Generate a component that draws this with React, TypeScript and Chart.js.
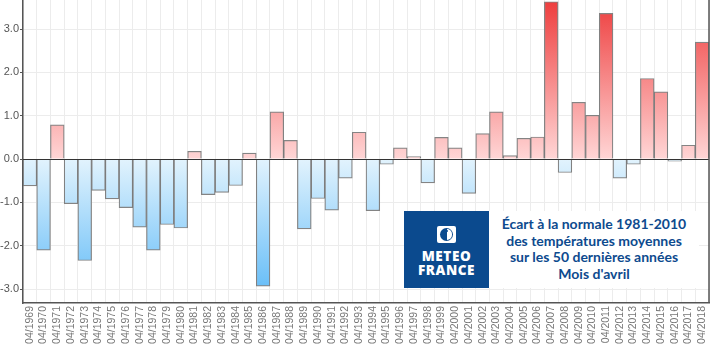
import React, { useEffect, useRef } from "react";
import { Chart, registerables } from "chart.js";

Chart.register(...registerables);

const years: string[] = [
  "1969","1970","1971","1972","1973","1974","1975","1976","1977","1978",
  "1979","1980","1981","1982","1983","1984","1985","1986","1987","1988",
  "1989","1990","1991","1992","1993","1994","1995","1996","1997","1998",
  "1999","2000","2001","2002","2003","2004","2005","2006","2007","2008",
  "2009","2010","2011","2012","2013","2014","2015","2016","2017","2018",
];
const labels: string[] = years.map((y) => "04/" + y);

const anomalies: number[] = [
  -0.62, -2.1, 0.79, -1.03, -2.34, -0.72, -0.92, -1.12, -1.57, -2.1,
  -1.51, -1.59, 0.18, -0.82, -0.77, -0.61, 0.14, -2.93, 1.09, 0.43,
  -1.61, -0.91, -1.18, -0.44, 0.62, -1.19, -0.12, 0.26, 0.06, -0.55,
  0.5, 0.26, -0.79, 0.59, 1.09, 0.08, 0.48, 0.51, 3.63, -0.31,
  1.31, 1.01, 3.36, -0.44, -0.12, 1.86, 1.55, -0.05, 0.32, 2.7,
];

const yTicks: number[] = [-3, -2, -1, 0, 1, 2, 3];
const yMin = -3.32;
const yMax = 3.67;

const titleLines: string[] = [
  "Écart à la normale 1981-2010",
  "des températures moyennes",
  "sur les 50 dernières années",
  "Mois d'avril",
];

export default function App() {
  const ref = useRef<HTMLCanvasElement | null>(null);

  useEffect(() => {
    const canvas = ref.current;
    if (!canvas) return;

    const fillFor = (ctx: any) => {
      const chart = ctx.chart;
      const area = chart.chartArea;
      const ys = chart.scales?.y;
      if (!area || !ys) return "#ccc";
      const v = ctx.raw as number;
      const c = chart.ctx as CanvasRenderingContext2D;
      const z = ys.getPixelForValue(0);
      if (v >= 0) {
        const g = c.createLinearGradient(0, z, 0, ys.getPixelForValue(3.65));
        g.addColorStop(0, "rgb(255,214,214)");
        g.addColorStop(1, "rgb(238,62,62)");
        return g;
      }
      const g = c.createLinearGradient(0, z, 0, ys.getPixelForValue(-3.0));
      g.addColorStop(0, "rgb(226,243,253)");
      g.addColorStop(1, "rgb(104,190,248)");
      return g;
    };

    const framePlugin = {
      id: "frame",
      afterDatasetsDraw(chart: any) {
        const { ctx, chartArea, scales } = chart;
        const z = Math.round(scales.y.getPixelForValue(0)) + 0.5;
        ctx.save();
        ctx.strokeStyle = "#333";
        ctx.lineWidth = 1;
        ctx.beginPath();
        ctx.moveTo(chartArea.left, z);
        ctx.lineTo(chartArea.right, z);
        ctx.stroke();
        ctx.strokeStyle = "#555";
        ctx.lineWidth = 1.5;
        ctx.beginPath();
        ctx.moveTo(chartArea.right, chartArea.top);
        ctx.lineTo(chartArea.right, chartArea.bottom);
        ctx.stroke();
        ctx.restore();
      },
    };

    const chart = new Chart(canvas, {
      type: "bar",
      data: {
        labels,
        datasets: [
          {
            data: anomalies,
            backgroundColor: fillFor,
            borderColor: "rgba(110,110,110,0.85)",
            borderWidth: 1.2,
            barPercentage: 1,
            categoryPercentage: 1,
          },
        ],
      },
      options: {
        animation: false,
        responsive: false,
        maintainAspectRatio: false,
        layout: { padding: { top: 0, right: 6, left: 0, bottom: 0 } },
        plugins: { legend: { display: false }, tooltip: { enabled: false } },
        scales: {
          x: {
            offset: true,
            grid: {
              offset: true,
              color: "#ececec",
              drawTicks: false,
            },
            border: { color: "#555", width: 1.5 },
            ticks: {
              autoSkip: false,
              maxRotation: 90,
              minRotation: 90,
              padding: 3,
              color: "#777",
              font: { family: "Liberation Sans", size: 10.5 },
            },
            afterFit: (s: any) => {
              s.height = 49;
              s.paddingLeft = 0;
              s.paddingRight = 0;
            },
          },
          y: {
            min: yMin,
            max: yMax,
            afterBuildTicks: (s: any) => {
              s.ticks = yTicks.map((v) => ({ value: v }));
            },
            grid: {
              color: "#ececec",
              tickColor: "#555",
              tickLength: 3,
            },
            border: { color: "#555", width: 1.5 },
            ticks: {
              padding: 1,
              color: "#555",
              font: { family: "Liberation Sans", size: 11 },
              callback: (v: any) => Number(v).toFixed(1),
            },
            afterFit: (s: any) => {
              s.width = 23;
              s.paddingTop = 0;
              s.paddingBottom = 0;
            },
          },
        },
      },
      plugins: [framePlugin],
    });
    return () => chart.destroy();
  }, []);

  return (
    <div
      style={{
        position: "fixed",
        left: 0,
        top: 0,
        width: 715,
        height: 352,
        background: "#fff",
        overflow: "hidden",
      }}
    >
      <canvas ref={ref} width={715} height={352} style={{ display: "block" }} />
      <div
        style={{
          position: "absolute",
          left: 404,
          top: 211,
          width: 85,
          height: 77,
          background: "#0b4a8e",
        }}
      >
        <div
          style={{
            position: "absolute",
            left: 33,
            top: 15,
            width: 19,
            height: 17,
            background: "#fff",
            borderRadius: 2,
            overflow: "hidden",
          }}
        >
          <div
            style={{
              position: "absolute",
              left: 3,
              top: 2,
              width: 13,
              height: 13,
              borderRadius: "50%",
              background: "#0b4a8e",
            }}
          />
          <div
            style={{
              position: "absolute",
              left: 10,
              top: 3,
              width: 5,
              height: 11,
              borderRadius: "0 7px 7px 0",
              background: "#fff",
            }}
          />
          <div
            style={{
              position: "absolute",
              left: 9,
              top: 4,
              width: 2,
              height: 2,
              borderRadius: "50%",
              background: "#0b4a8e",
            }}
          />
        </div>
        <div
          style={{
            position: "absolute",
            left: 0,
            width: 85,
            top: 38,
            textAlign: "center",
            color: "#fff",
            fontFamily: "'Open Sans', 'DejaVu Sans', sans-serif",
            fontWeight: 800,
            fontSize: 13.5,
            lineHeight: "14px",
            letterSpacing: 0.6,
          }}
        >
          <div>METEO</div>
          <div>FRANCE</div>
        </div>
      </div>
      <div
        style={{
          position: "absolute",
          left: 489,
          top: 211,
          width: 210,
          height: 77,
          background: "#fff",
          color: "#0d4a8e",
          fontFamily: "Lato, 'Open Sans', sans-serif",
          fontWeight: 700,
          fontSize: 14,
          lineHeight: "16.7px",
          textAlign: "center",
          paddingTop: 5,
          boxSizing: "border-box",
        }}
      >
        {titleLines.map((t, i) => (
          <div key={i}>{t}</div>
        ))}
      </div>
    </div>
  );
}
